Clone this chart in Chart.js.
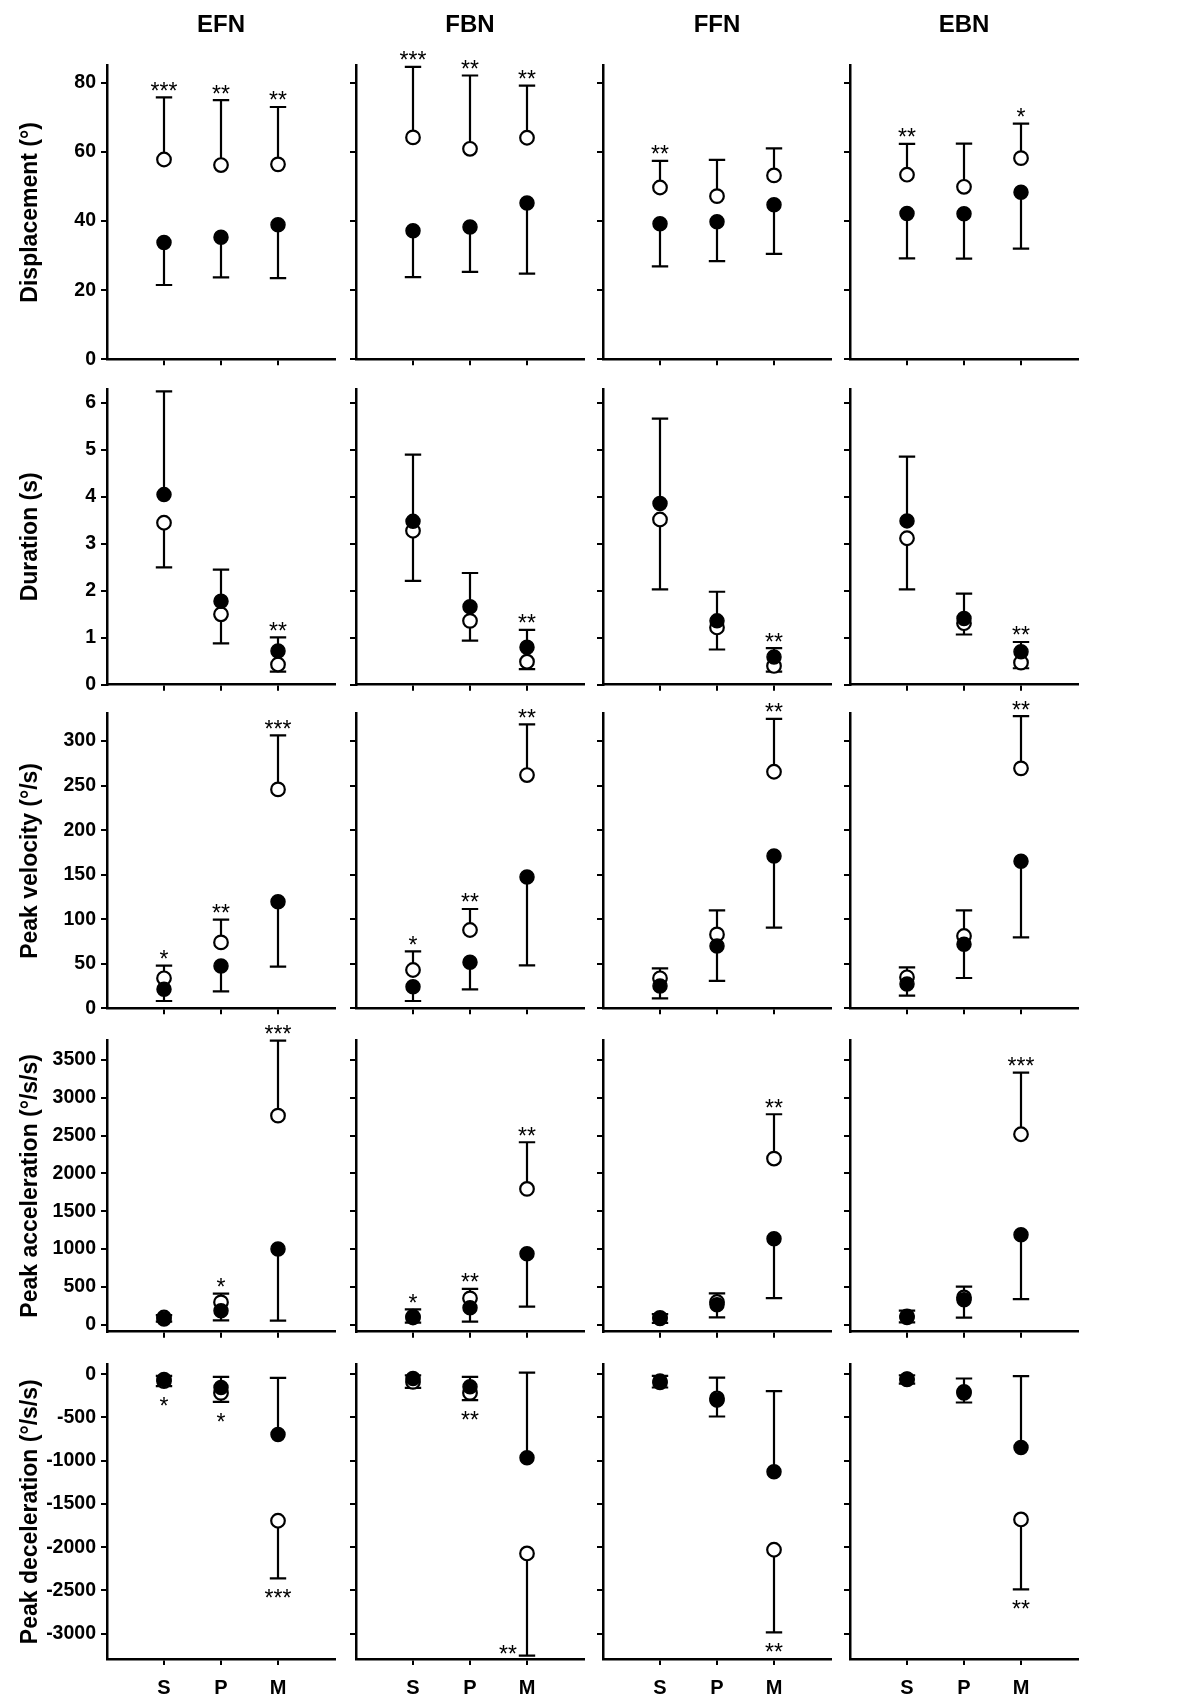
<!DOCTYPE html>
<html><head><meta charset="utf-8">
<script src="https://cdn.jsdelivr.net/npm/chart.js@4/dist/chart.umd.min.js"></script>
<style>
html,body{margin:0;padding:0;background:#fff;}
#wrap{position:relative;width:1200px;height:1706px;overflow:hidden;background:#fff;}
#wrap canvas{position:absolute;}
</style></head>
<body><div id="wrap"></div>
<script>
// ---------- categories / labels ----------
const groups = ['EFN', 'FBN', 'FFN', 'EBN'];
const conditions = ['S', 'P', 'M'];
const rowTitles = ['Displacement (°)', 'Duration (s)', 'Peak velocity (°/s)', 'Peak acceleration (°/s/s)', 'Peak deceleration (°/s/s)'];

// ---------- tick labels ----------
const dispTicks = [0, 20, 40, 60, 80];
const durTicks = [0, 1, 2, 3, 4, 5, 6];
const velTicks = [0, 50, 100, 150, 200, 250, 300];
const accTicks = [0, 500, 1000, 1500, 2000, 2500, 3000, 3500];
const decTicks = [-3000, -2500, -2000, -1500, -1000, -500, 0];

// ---------- axis ranges ----------
const dispRange = [0, 85];
const durRange = [0, 6.3];
const velRange = [0, 331];
const accRange = [-93, 3764];
const decRange = [-3292, 112];

// ---------- Displacement (per group: S, P, M) ----------
const dispOpen      = [[57.8, 56.2, 56.4], [64.2, 60.9, 64.1], [49.7, 47.2, 53.2], [53.4, 49.9, 58.2]];
const dispOpenEnd   = [[75.8, 75.0, 73.0], [84.6, 82.1, 79.2], [57.4, 57.7, 61.0], [62.3, 62.4, 68.2]];
const dispFilled    = [[33.8, 35.3, 38.9], [37.2, 38.3, 45.2], [39.2, 39.8, 44.7], [42.2, 42.1, 48.3]];
const dispFilledEnd = [[21.5, 23.7, 23.5], [23.8, 25.3, 24.8], [26.9, 28.4, 30.5], [29.2, 29.1, 32.0]];
const dispStars     = [['***', '**', '**'], ['***', '**', '**'], ['**', '', ''], ['**', '', '*']];

// ---------- Duration ----------
const durOpen      = [[3.45, 1.50, 0.43], [3.28, 1.36, 0.49], [3.52, 1.22, 0.40], [3.12, 1.31, 0.47]];
const durOpenEnd   = [[2.50, 0.88, 0.28], [2.21, 0.94, 0.33], [2.03, 0.75, 0.28], [2.03, 1.07, 0.35]];
const durFilled    = [[4.05, 1.78, 0.72], [3.48, 1.66, 0.80], [3.86, 1.36, 0.59], [3.49, 1.41, 0.70]];
const durFilledEnd = [[6.25, 2.45, 1.01], [4.90, 2.38, 1.17], [5.67, 1.98, 0.78], [4.86, 1.94, 0.91]];
const durStars     = [['', '', '**'], ['', '', '**'], ['', '', '**'], ['', '', '**']];

// ---------- Peak velocity ----------
const velOpen      = [[33.7, 74, 245.8], [43, 87.9, 261.9], [33.7, 83, 265.6], [34.8, 81.2, 269.4]];
const velOpenEnd   = [[47.9, 99.5, 306.4], [64, 111.5, 318.7], [44.9, 110, 325], [46, 110, 328]];
const velFilled    = [[21.3, 47.5, 119.7], [24.3, 51.6, 147.4], [25.1, 70, 171], [27.3, 71.8, 165]];
const velFilledEnd = [[8.2, 19.1, 46.8], [8.2, 21.3, 48.3], [11.2, 30.7, 90.5], [14.2, 34, 79.7]];
const velStars     = [['*', '**', '***'], ['*', '**', '**'], ['', '', '**'], ['', '', '**']];

// ---------- Peak acceleration ----------
const accOpen      = [[95, 295, 2764], [105, 348, 1795], [90, 300, 2196], [110, 360, 2518]];
const accOpenEnd   = [[125, 410, 3756], [203, 472, 2412], [140, 414, 2782], [185, 502, 3332]];
const accFilled    = [[75, 185, 1001], [93, 225, 939], [80, 262, 1136], [95, 330, 1188]];
const accFilledEnd = [[40, 57, 53], [26, 40, 238], [25, 97, 352], [30, 92, 339]];
const accStars     = [['', '*', '***'], ['*', '**', '**'], ['', '', '**'], ['', '', '***']];

// ---------- Peak deceleration ----------
const decOpen      = [[-80, -216, -1694], [-89, -216, -2072], [-95, -280, -2029], [-60, -215, -1679]];
const decOpenEnd   = [[-139, -320, -2360], [-158, -300, -3254], [-154, -489, -2984], [-108, -327, -2487]];
const decFilled    = [[-62, -154, -697], [-50, -146, -966], [-80, -300, -1128], [-55, -204, -847]];
const decFilledEnd = [[-19, -31, -42], [-12, -31, 19], [-19, -39, -196], [-12, -50, -23]];
const decStars     = [['*', '*', '***'], ['', '**', '**'], ['', '', '**'], ['', '', '**']];
const decStarSide  = [['below', 'below', 'below'], ['below', 'below', 'left'], ['below', 'below', 'below'], ['below', 'below', 'below']];

// ---------- assemble rows ----------
const sameSide = s => groups.map(() => conditions.map(() => s));
const rows = [
  {title: rowTitles[0], ticks: dispTicks, range: dispRange, open: dispOpen, openEnd: dispOpenEnd, filled: dispFilled, filledEnd: dispFilledEnd, stars: dispStars, side: sameSide('above')},
  {title: rowTitles[1], ticks: durTicks, range: durRange, open: durOpen, openEnd: durOpenEnd, filled: durFilled, filledEnd: durFilledEnd, stars: durStars, side: sameSide('above')},
  {title: rowTitles[2], ticks: velTicks, range: velRange, open: velOpen, openEnd: velOpenEnd, filled: velFilled, filledEnd: velFilledEnd, stars: velStars, side: sameSide('above')},
  {title: rowTitles[3], ticks: accTicks, range: accRange, open: accOpen, openEnd: accOpenEnd, filled: accFilled, filledEnd: accFilledEnd, stars: accStars, side: sameSide('above')},
  {title: rowTitles[4], ticks: decTicks, range: decRange, open: decOpen, openEnd: decOpenEnd, filled: decFilled, filledEnd: decFilledEnd, stars: decStars, side: decStarSide}
];

// ---------- layout ----------
const FONT = "'Liberation Sans', Arial, Helvetica, sans-serif";
Chart.defaults.font.family = FONT;
Chart.defaults.color = '#000';
const colLeft = [107, 356, 603, 850];
const plotW = 228;
const rowTop = [65.5, 389, 713.5, 1040, 1364.5];
const rowBottom = [359.3, 684.7, 1008.3, 1331.7, 1659];
const wrap = document.getElementById('wrap');

function decoPlugin(r, c, row) {
  return {
    id: 'deco',
    beforeDatasetsDraw(chart) {
      const {ctx} = chart;
      const x = chart.scales.x, y = chart.scales.y;
      ctx.save();
      ctx.strokeStyle = '#000';
      ctx.lineWidth = 2.2;
      const capHalf = 8.2;
      [[row.open[c], row.openEnd[c]], [row.filled[c], row.filledEnd[c]]].forEach(([means, ends]) => {
        means.forEach((m, i) => {
          const px = x.getPixelForValue(i + 1);
          const p0 = y.getPixelForValue(m);
          const p1 = y.getPixelForValue(ends[i]);
          ctx.beginPath();
          ctx.moveTo(px, p0); ctx.lineTo(px, p1);
          ctx.moveTo(px - capHalf, p1); ctx.lineTo(px + capHalf, p1);
          ctx.stroke();
        });
      });
      ctx.restore();
    },
    afterDatasetsDraw(chart) {
      const {ctx, chartArea} = chart;
      const x = chart.scales.x, y = chart.scales.y;
      ctx.save();
      ctx.fillStyle = '#000';
      ctx.font = '23px ' + FONT;
      ctx.textAlign = 'center';
      ctx.textBaseline = 'alphabetic';
      row.stars[c].forEach((s, i) => {
        if (!s) return;
        const vals = [row.open[c][i], row.openEnd[c][i], row.filled[c][i], row.filledEnd[c][i]].map(v => y.getPixelForValue(v));
        const px = x.getPixelForValue(i + 1);
        const side = row.side[c][i];
        if (side === 'above') {
          ctx.fillText(s, px, Math.min(...vals) + 1.5);
        } else if (side === 'below') {
          ctx.fillText(s, px, Math.max(...vals) + 28);
        } else {
          ctx.fillText(s, px - 19, Math.max(...vals) + 6);
        }
      });
      if (r === 0) {
        ctx.font = 'bold 24px ' + FONT;
        ctx.textBaseline = 'middle';
        ctx.fillText(groups[c], (chartArea.left + chartArea.right) / 2, chartArea.top - 40);
      }
      ctx.restore();
    }
  };
}

rows.forEach((row, r) => {
  groups.forEach((g, c) => {
    const left = c === 0 ? 0 : colLeft[c] - 22;
    const LW = colLeft[c] - left;
    const right = colLeft[c] + plotW + 12;
    const cw = right - left;
    const top = r === 0 ? 0 : Math.floor(rowTop[r]) - 30;
    const BH = r === 4 ? 44 : 12;
    const bottom = Math.min(1706, Math.ceil(rowBottom[r] + BH + 2));
    const ch = bottom - top;
    const padTop = rowTop[r] - top;
    const padBottom = bottom - rowBottom[r] - BH;

    const canvas = document.createElement('canvas');
    canvas.width = cw; canvas.height = ch;
    canvas.style.left = left + 'px'; canvas.style.top = top + 'px';
    canvas.style.width = cw + 'px'; canvas.style.height = ch + 'px';
    wrap.appendChild(canvas);

    new Chart(canvas, {
      type: 'scatter',
      data: {
        datasets: [
          {
            label: 'filled',
            data: row.filled[c].map((v, i) => ({x: i + 1, y: v})),
            pointRadius: 7, pointHoverRadius: 7,
            pointBackgroundColor: '#000', pointBorderColor: '#000', pointBorderWidth: 1.5,
            showLine: false, clip: false
          },
          {
            label: 'open',
            data: row.open[c].map((v, i) => ({x: i + 1, y: v})),
            pointRadius: 6.8, pointHoverRadius: 6.8,
            pointBackgroundColor: '#fff', pointBorderColor: '#000', pointBorderWidth: 2.2,
            showLine: false, clip: false
          }
        ]
      },
      options: {
        responsive: false,
        animation: false,
        events: [],
        layout: {padding: {left: 0, right: 12, top: padTop, bottom: padBottom}},
        plugins: {legend: {display: false}, tooltip: {enabled: false}, title: {display: false}},
        scales: {
          x: {
            type: 'linear', min: 0, max: conditions.length + 1,
            afterBuildTicks: s => { s.ticks = conditions.map((_, i) => ({value: i + 1})); },
            afterFit: s => { s.height = BH; s.paddingLeft = 0; s.paddingRight = 0; },
            border: {display: true, color: '#000', width: 2.5},
            grid: {display: true, drawOnChartArea: false, drawTicks: true, tickLength: 6, color: '#000', lineWidth: 2},
            ticks: {
              display: r === rows.length - 1, color: '#000', padding: 11, maxRotation: 0, autoSkip: false,
              font: {size: 20, weight: 'bold'},
              callback: v => conditions[v - 1]
            }
          },
          y: {
            type: 'linear', min: row.range[0], max: row.range[1],
            afterBuildTicks: s => { s.ticks = row.ticks.map(v => ({value: v})); },
            afterFit: s => { s.width = LW; s.paddingTop = 0; s.paddingBottom = 0; },
            border: {display: true, color: '#000', width: 2.5},
            grid: {display: true, drawOnChartArea: false, drawTicks: true, tickLength: 6, color: '#000', lineWidth: 2},
            ticks: {
              display: c === 0, color: '#000', padding: 5, autoSkip: false,
              font: {size: 19.5, weight: 'bold'},
              callback: v => String(v)
            },
            title: {display: c === 0, text: row.title, color: '#000', font: {size: 23, weight: 'bold'}, padding: {top: 16.5, bottom: 0}}
          }
        }
      },
      plugins: [decoPlugin(r, c, row)]
    });
  });
});
</script>
</body></html>
